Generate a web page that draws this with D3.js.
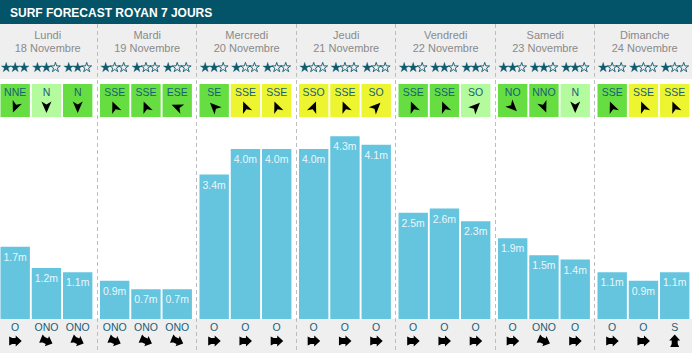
<!DOCTYPE html>
<html>
<head>
<meta charset="utf-8">
<script src="https://cdn.jsdelivr.net/npm/d3@7"></script>
<style>
  body { margin: 0; background: #fff; }
  svg { display: block; font-family: "Liberation Sans", Arial, Helvetica, sans-serif; }
</style>
</head>
<body>
<div id="chart"></div>
<script>
const title = "SURF FORECAST ROYAN 7 JOURS";
const days = ["Lundi", "Mardi", "Mercredi", "Jeudi", "Vendredi", "Samedi", "Dimanche"];
const dates = ["18 Novembre", "19 Novembre", "20 Novembre", "21 Novembre", "22 Novembre", "23 Novembre", "24 Novembre"];
const stars = [[3, 2, 2], [1, 1, 1], [2, 1, 1], [1, 1, 1], [2, 2, 2], [2, 2, 2], [1, 1, 1]];
const windDir = [["NNE", "N", "N"], ["SSE", "SSE", "ESE"], ["SE", "SSE", "SSE"], ["SSO", "SSE", "SO"],
                 ["SSE", "SSE", "SO"], ["NO", "NNO", "N"], ["SSE", "SSE", "SSE"]];
// 0 = strong green, 1 = light green, 2 = yellow
const windLevel = [[0, 1, 0], [0, 0, 0], [0, 2, 2], [2, 2, 2], [0, 0, 1], [0, 0, 1], [0, 2, 2]];
const waveHeight = [[1.7, 1.2, 1.1], [0.9, 0.7, 0.7], [3.4, 4.0, 4.0], [4.0, 4.3, 4.1],
                    [2.5, 2.6, 2.3], [1.9, 1.5, 1.4], [1.1, 0.9, 1.1]];
const swellDir = [["O", "ONO", "ONO"], ["ONO", "ONO", "ONO"], ["O", "O", "O"], ["O", "O", "O"],
                  ["O", "O", "O"], ["O", "ONO", "O"], ["O", "O", "S"]];

const compass = ["N", "NNE", "NE", "ENE", "E", "ESE", "SE", "SSE", "S", "SSO", "SO", "OSO", "O", "ONO", "NO", "NNO"];
const angleOf = d => compass.indexOf(d) * 22.5;

const w = 692, h = 353;
const headerH = 24, topGreyEnd = 79, baseY = 319;

const svg = d3.select("#chart").append("svg")
  .attr("width", w).attr("height", h).attr("viewBox", [0, 0, w, h]);

// backgrounds
svg.append("rect").attr("width", w).attr("height", h).attr("fill", "#fff");
svg.append("rect").attr("y", headerH).attr("width", w).attr("height", topGreyEnd - headerH).attr("fill", "#efefef");
svg.append("rect").attr("y", baseY).attr("width", w).attr("height", h - baseY).attr("fill", "#efefef");
svg.append("rect").attr("width", w).attr("height", headerH).attr("fill", "#035468");
svg.append("text").attr("x", 10).attr("y", 16.5)
  .attr("fill", "#fff").attr("font-size", 12).attr("font-weight", "bold")
  .text(title);

// scales
const xDay = d3.scaleBand().domain(d3.range(7)).range([-2.8, -2.8 + 7 * 99.5]);
const xSub = d3.scaleBand().domain([0, 1, 2]).range([3.3, 95.2]).paddingInner(0.06);
const y = d3.scaleLinear().domain([0, 4.3]).range([baseY, baseY - 4.3 * 42.5]);
const windColor = d3.scaleOrdinal([0, 1, 2], ["#66de42", "#b3fb9c", "#edf531"]);

// dividers
svg.append("g").selectAll("line").data(d3.range(1, 7)).join("line")
  .attr("x1", d => Math.round(xDay(d)) + 0.5).attr("x2", d => Math.round(xDay(d)) + 0.5)
  .attr("y1", headerH).attr("y2", h)
  .attr("stroke", "#bdbdbd").attr("stroke-dasharray", "4,3");

const day = svg.append("g").selectAll("g").data(d3.range(7)).join("g")
  .attr("transform", d => `translate(${xDay(d)},0)`);

day.append("text").attr("x", 50.5).attr("y", 39)
  .attr("text-anchor", "middle").attr("font-size", 11).attr("fill", "#8a8a8a")
  .text(d => days[d]);
day.append("text").attr("x", 50.5).attr("y", 52)
  .attr("text-anchor", "middle").attr("font-size", 11).attr("fill", "#8a8a8a")
  .text(d => dates[d]);

const starPath = d3.symbol(d3.symbolStar).size(30)();
const windArrow = "M0,-6L5,5.5L0,2.5L-5,5.5Z";
const swellArrow = "M0,-6.5L5.5,-0.5L3,-0.5L3,3L4.5,6L-4.5,6L-3,3L-3,-0.5L-5.5,-0.5Z";

const sub = day.selectAll("g.sub").data(d => [0, 1, 2].map(j => ({ d, j }))).join("g")
  .attr("class", "sub")
  .attr("transform", s => `translate(${xSub(s.j)},0)`);

const bw = xSub.bandwidth();

// stars
sub.each(function (s) {
  const g = d3.select(this);
  for (let k = 0; k < 3; k++) {
    const filled = k < stars[s.d][s.j];
    g.append("path").attr("d", starPath)
      .attr("transform", `translate(${bw / 2 + (k - 1) * 9},67.5)`)
      .attr("fill", filled ? "#0e5a6e" : "none")
      .attr("stroke", "#0e5a6e").attr("stroke-width", filled ? 0.3 : 0.9);
  }
});

// wind boxes
sub.append("rect").attr("y", 84).attr("width", bw).attr("height", 33)
  .attr("fill", s => windColor(windLevel[s.d][s.j]));
sub.append("text").attr("x", bw / 2).attr("y", 95.5)
  .attr("text-anchor", "middle").attr("font-size", 10.5).attr("fill", "#175e78")
  .text(s => windDir[s.d][s.j]);
sub.append("path").attr("d", windArrow).attr("fill", "#000")
  .attr("transform", s => `translate(${bw / 2},107) rotate(${angleOf(windDir[s.d][s.j]) + 180})`);

// wave bars
sub.append("rect")
  .attr("y", s => y(waveHeight[s.d][s.j]))
  .attr("width", bw)
  .attr("height", s => baseY - y(waveHeight[s.d][s.j]))
  .attr("fill", "#65c4de");
sub.append("text").attr("x", bw / 2)
  .attr("y", s => y(waveHeight[s.d][s.j]) + 14)
  .attr("text-anchor", "middle").attr("font-size", 10.5).attr("fill", "#eaf7fb")
  .text(s => waveHeight[s.d][s.j].toFixed(1) + "m");

// swell direction
sub.append("text").attr("x", bw / 2).attr("y", 331)
  .attr("text-anchor", "middle").attr("font-size", 10.5).attr("fill", "#175e78")
  .text(s => swellDir[s.d][s.j]);
sub.append("path").attr("d", swellArrow).attr("fill", "#000")
  .attr("transform", s => `translate(${bw / 2},341) rotate(${angleOf(swellDir[s.d][s.j]) + 180})`);
</script>
</body>
</html>
